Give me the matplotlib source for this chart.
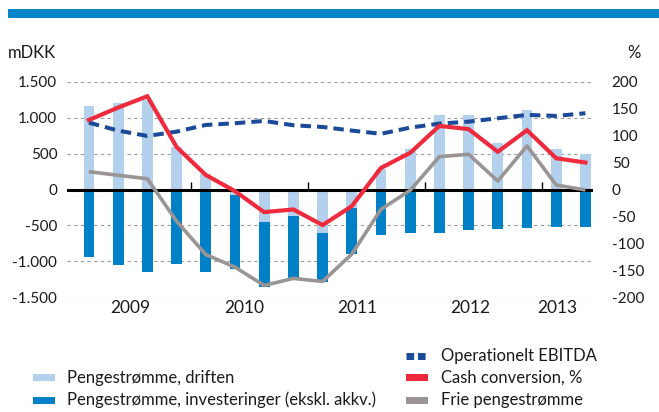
import numpy as np
import matplotlib.pyplot as plt
from matplotlib.patches import Rectangle
from matplotlib.lines import Line2D

plt.rcParams['font.family'] = ['Lato', 'DejaVu Sans']
plt.rcParams['axes.unicode_minus'] = False

# quarterly data 2009 Q1 - 2013 Q2
driften = [1163, 1200, 1242, 592, 220, -70, -448, -369, -606, -262, 290, 564, 1042, 1040, 652, 1107, 564, 490]
invest = [-936, -1047, -1145, -1033, -1149, -1033, -906, -859, -678, -641, -630, -601, -601, -569, -546, -532, -518, -518]
frie = [248, 198, 150, -440, -905, -1080, -1335, -1237, -1280, -900, -276, -11, 457, 490, 118, 606, 63, -7]
ebitda = [930, 820, 745, 805, 898, 922, 954, 894, 870, 820, 775, 861, 917, 944, 991, 1038, 1024, 1061]
cashconv = [129, 152, 173, 79, 27, -3, -42, -37, -66, -31, 40, 68, 118, 112, 70, 110, 58, 50]

years = ['2009', '2010', '2011', '2012', '2013']
year_pos = [1.40, 5.31, 9.18, 13.05, 16.03]
year_breaks = [3.5, 7.5, 11.5, 15.5]

left_ticks = [-1500, -1000, -500, 0, 500, 1000, 1500]
left_labels = ['-1.500', '-1.000', '-500', '0', '500', '1.000', '1.500']
right_ticks = [-200, -150, -100, -50, 0, 50, 100, 150, 200]
right_labels = ['-200', '-150', '-100', '-50', '0', '50', '100', '150', '200']

legend_left = ['Pengestrømme, driften', 'Pengestrømme, investeringer (ekskl. akkv.)']
legend_right = ['Operationelt EBITDA', 'Cash conversion, %', 'Frie pengestrømme']

c_light = '#b3d0ed'
c_dark = '#0080c6'
c_red = '#ee2a3c'
c_grey = '#9a9494'
c_navy = '#1a4a98'
c_band = '#0085c8'
txt = '#1a1a1a'

W, H = 659, 412
fig = plt.figure(figsize=(W / 100, H / 100), dpi=100)
ax = fig.add_axes([67 / W, (H - 297.3) / H, 526 / W, 215.6 / H])
ax2 = ax.twinx()

x = np.arange(len(driften))
bw = 0.37
ax.bar(x, driften, bw, color=c_light, zorder=2)
bottoms = np.minimum(np.array(driften), 0)
ax.bar(x, invest, bw, bottom=bottoms, color=c_dark, zorder=2)

ax.axhline(0, color='black', lw=2.2, zorder=3)
ax.vlines(year_breaks, 0, 100, color='black', lw=1.0, zorder=3)

ax.plot(x, frie, color=c_grey, lw=2.6, zorder=4, solid_capstyle='butt')
ax.plot(x, ebitda, color=c_navy, lw=2.9, dashes=(2.6, 1.5), zorder=5)
ax2.plot(x, cashconv, color=c_red, lw=3.0, zorder=6, solid_joinstyle='miter')

ax.set_xlim(-0.75, 17.26)
ax.set_ylim(-1500, 1500)
ax2.set_ylim(-200, 200)

ax.set_yticks(left_ticks, left_labels)
ax2.set_yticks(right_ticks, right_labels)
ax.set_xticks(year_pos, years)
ax.tick_params(axis='y', length=0, pad=7, labelsize=11, labelcolor=txt)
ax2.tick_params(axis='y', length=0, pad=13.5, labelsize=11, labelcolor=txt)
ax.tick_params(axis='x', length=0, pad=2, labelsize=12.5, labelcolor=txt)

for g in left_ticks:
    if g != 0:
        ax.axhline(g, color='#9a9a9a', lw=0.8, ls=(0, (3, 3)), zorder=1)

for a in (ax, ax2):
    for s in a.spines.values():
        s.set_visible(False)

# top band and axis units
fig.add_artist(Rectangle((8 / W, (H - 18) / H), 1 - 8 / W, 9 / H,
                         transform=fig.transFigure, color=c_band, lw=0))
fig.text(8 / W, (H - 53) / H, 'mDKK', fontsize=12, color=txt, va='center', ha='left')
fig.text(627 / W, (H - 53) / H, '%', fontsize=12, color=txt, va='center', ha='left')

# legend
rows_left = [377.7, 400]
for lab, col, yy in zip(legend_left, [c_light, c_dark], rows_left):
    fig.add_artist(Rectangle((33 / W, (H - yy - 3.5) / H), 22 / W, 7 / H,
                             transform=fig.transFigure, color=col, lw=0))
    fig.text(67 / W, (H - yy) / H, lab, fontsize=12, color=txt, va='center', ha='left')

rows_right = [355.7, 377.7, 400]
fig.add_artist(Line2D([406 / W, 428 / W], [(H - rows_right[0]) / H] * 2,
                      transform=fig.transFigure, color=c_navy, lw=5, dashes=(1.1, 0.55)))
for col, yy in zip([c_red, c_grey], rows_right[1:]):
    fig.add_artist(Rectangle((406 / W, (H - yy - 3.5) / H), 22 / W, 7 / H,
                             transform=fig.transFigure, color=col, lw=0))
for lab, yy in zip(legend_right, rows_right):
    fig.text(441 / W, (H - yy) / H, lab, fontsize=12, color=txt, va='center', ha='left')

fig.savefig('out.png', dpi=100)
